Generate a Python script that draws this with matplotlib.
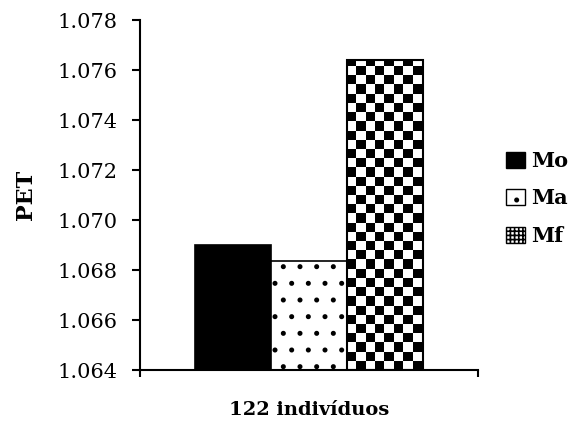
import matplotlib
matplotlib.use("Agg")
import matplotlib.pyplot as plt
from matplotlib.patches import Patch
import numpy as np

groups = ["Mo", "Ma", "Mf"]
pet = [1.0690, 1.06834, 1.0764]
category = "122 indivíduos"
y_ticks = [1.064, 1.066, 1.068, 1.070, 1.072, 1.074, 1.076, 1.078]

plt.rcParams['font.family'] = ['DejaVu Serif']
plt.rcParams['hatch.linewidth'] = 1.2

fig = plt.figure(figsize=(5.72, 4.21), dpi=100)
ax = fig.add_axes([140 / 572, 51 / 421, 338 / 572, 350 / 421])

width = 0.224
offsets = [-width, 0, width]

ax.bar(offsets[0], pet[0] - y_ticks[0], width, bottom=y_ticks[0],
       color='black', edgecolor='black', linewidth=1.2, zorder=2)
ax.bar(offsets[1], pet[1] - y_ticks[0], width, bottom=y_ticks[0],
       color='white', edgecolor='black', hatch='.', linewidth=1.2, zorder=2)
mf = ax.bar(offsets[2], pet[2] - y_ticks[0], width, bottom=y_ticks[0],
            fill=False, edgecolor='black', linewidth=1.5, zorder=3)

# checkerboard fill for Mf, clipped to its bar
checker = np.add.outer(np.arange(38), np.arange(36)) % 2
img = ax.imshow(checker, cmap='gray', extent=(-0.5, 0.5, y_ticks[0], y_ticks[-1]),
                aspect='auto', interpolation='nearest', zorder=2)
img.set_clip_path(mf.patches[0])

ax.set_xlim(-0.5, 0.5)
ax.set_ylim(y_ticks[0], y_ticks[-1])
ax.set_yticks(y_ticks)
ax.set_yticklabels(["{:.3f}".format(v) for v in y_ticks], fontsize=15)
ax.set_xticks([0])
ax.set_xticklabels([category], fontsize=14, fontweight='bold')
ax.set_xticks([-0.5, 0.5], minor=True)
ax.tick_params(axis='x', which='major', length=0, pad=22)
ax.tick_params(axis='x', which='minor', length=5, width=1.5, direction='out')
ax.tick_params(axis='y', length=6, width=1.5, direction='out', pad=10)

for s in ['top', 'right']:
    ax.spines[s].set_visible(False)
for s in ['left', 'bottom']:
    ax.spines[s].set_linewidth(1.5)

ax.set_ylabel("PET", fontsize=16, fontweight='bold', labelpad=15)

handles = [Patch(facecolor='black', edgecolor='black', label=groups[0]),
           Patch(facecolor='white', edgecolor='black', hatch='.', label=groups[1]),
           Patch(facecolor='white', edgecolor='black', hatch='++++', label=groups[2])]
fig.legend(handles=handles, loc='center left', bbox_to_anchor=(506 / 572, 1 - 198.5 / 421),
           frameon=False, borderpad=0, borderaxespad=0, handlelength=0.9, handleheight=0.8,
           handletextpad=0.3, labelspacing=0.85, prop={'size': 15, 'weight': 'bold'})

fig.savefig("out.png", dpi=100)
